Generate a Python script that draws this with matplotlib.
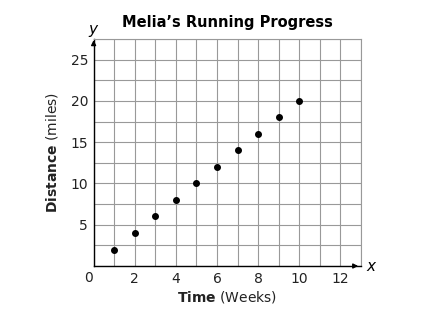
import numpy as np
import matplotlib
matplotlib.use("Agg")
import matplotlib.pyplot as plt

weeks = [1, 2, 3, 4, 5, 6, 7, 8, 9, 10]
miles = [2, 4, 6, 8, 10, 12, 14, 16, 18, 20]
x_ticks = [2, 4, 6, 8, 10, 12]
y_ticks = [5, 10, 15, 20, 25]

plt.rcParams["font.family"] = "DejaVu Sans"

fig = plt.figure(figsize=(4.43, 3.21), dpi=100)
ax = fig.add_axes([0.2113, 0.1713, 0.8149 - 0.2113, 0.8785 - 0.1713])

ax.set_xlim(0, 13)
ax.set_ylim(0, 27.5)
ax.set_xticks(np.arange(0, 13.01, 1), minor=True)
ax.set_yticks(np.arange(0, 27.51, 2.5), minor=True)
ax.set_xticks(x_ticks)
ax.set_yticks(y_ticks)
ax.set_xticklabels([str(t) for t in x_ticks], fontsize=10, color="#222222")
ax.set_yticklabels([str(t) for t in y_ticks], fontsize=10, color="#222222")
ax.tick_params(which="both", length=0, pad=4)
ax.grid(which="minor", color="#999999", linewidth=0.8)
ax.grid(which="major", color="#999999", linewidth=0.8)
ax.set_axisbelow(True)

for s in ["top", "right"]:
    ax.spines[s].set_color("#999999")
    ax.spines[s].set_linewidth(0.8)
for s in ["left", "bottom"]:
    ax.spines[s].set_color("black")
    ax.spines[s].set_linewidth(1.0)

# axis arrows
ax.annotate("", xy=(13.0, 0), xytext=(12.5, 0),
            arrowprops=dict(arrowstyle="-|>", color="black", lw=1, mutation_scale=7),
            annotation_clip=False)
ax.annotate("", xy=(0, 27.7), xytext=(0, 26.5),
            arrowprops=dict(arrowstyle="-|>", color="black", lw=1, mutation_scale=7),
            annotation_clip=False)

ax.scatter(weeks, miles, s=16, color="black", zorder=3, clip_on=False)

ax.text(13.25, 0, "x", fontsize=11, style="italic", va="center", ha="left")
ax.text(-0.05, 27.8, "y", fontsize=11, style="italic", va="bottom", ha="center")
ax.text(-0.25, -0.65, "0", fontsize=10, ha="center", va="top", color="#222222")

ax.set_title("Melia\u2019s Running Progress", fontsize=10.5, fontweight="bold", pad=9)

fig.text(0.5 * (0.2113 + 0.8149), 0.075, r"$\bf{Time}$ (Weeks)", fontsize=10,
         ha="center", va="center", color="#222222")
fig.text(0.117, 0.5 * (0.1713 + 0.8785), r"$\bf{Distance}$ (miles)", fontsize=10,
         ha="center", va="center", rotation=90, color="#222222")

plt.savefig("out.png", dpi=100)
plt.close(fig)
